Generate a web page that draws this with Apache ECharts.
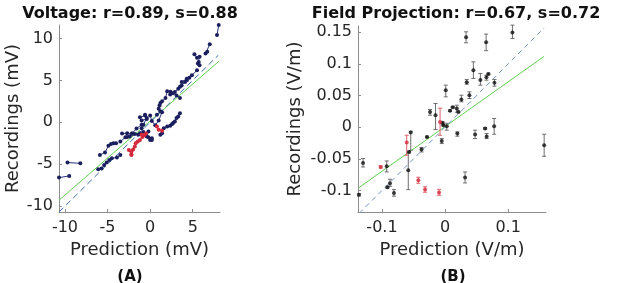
<!DOCTYPE html>
<html>
<head>
<meta charset="utf-8">
<script src="https://cdn.jsdelivr.net/npm/echarts@6.0.0/dist/echarts.min.js"></script>
<style>
  html, body { margin: 0; padding: 0; background: #fff; }
  #chart { width: 617px; height: 283px; }
</style>
</head>
<body>
<div id="chart"></div>
<script>
// ---- (A) Voltage: chains of recordings vs prediction (mV)
const voltNavyChains = [
  [[-10.7, -6.6], [-9.5, -6.4]],
  [[-9.7, -4.8], [-8.2, -4.9]],
  [[-6.1, -5.6], [-5.7, -5.5], [-5.4, -5.1], [-5.1, -4.8], [-4.8, -4.5], [-4.5, -4.3], [-3.9, -4.2], [-3.5, -3.9]],
  [[-5.9, -3.9], [-5.3, -3.6], [-4.9, -2.8], [-4.6, -2.6], [-4.3, -2.5], [-4.0, -2.5]],
  [[-3.5, -2.3], [-2.9, -1.8], [-2.4, -1.7], [-1.8, -1.4], [-1.2, -1.3]],
  [[-3.3, -1.35], [-2.7, -1.3], [-2.1, -1.35], [-1.4, -1.5], [-0.8, -1.15], [-0.2, -1.8], [0.2, -2.1]],
  [[-2.7, -1.75], [-2.15, -1.35], [-1.6, -0.75], [-1.0, -0.3]],
  [[-1.2, 0.6], [-0.6, 0.8], [-0.4, 0.4], [-1.0, 0.2]],
  [[-0.6, 0.9], [-0.4, 0.5], [-0.8, -0.3], [-1.0, -0.7]],
  [[-0.2, -1.1], [-0.4, -1.7], [0.0, -2.1], [0.2, -1.9]],
  [[0.0, 0.8], [0.2, 0.15], [0.6, -0.35], [1.0, 0.2], [1.4, 1.2]],
  [[1.2, -1.5], [1.4, -1.3], [1.6, -0.7], [2.0, -0.5], [2.35, -0.4], [2.55, -0.24], [2.7, -0.1], [2.9, 0.1], [3.1, 0.5], [3.3, 0.7], [3.5, 1.07]],
  [[0.8, 0.9], [1.2, 1.3], [1.0, 1.6], [1.1, 2.0], [1.2, 2.3], [1.4, 2.5], [1.8, 2.9], [2.0, 3.7], [2.4, 3.65], [2.35, 3.3], [2.7, 3.45], [2.9, 3.6], [3.3, 4.0], [3.5, 4.25], [3.7, 4.4], [4.1, 4.8], [4.3, 5.0], [4.6, 5.3]],
  [[3.1, 3.2], [3.5, 2.9]],
  [[3.7, 4.8], [4.3, 5.2], [4.9, 5.6], [5.5, 6.2]],
  [[5.2, 8.1], [5.5, 7.7], [5.8, 7.8], [5.6, 7.0], [5.8, 6.8], [5.7, 7.2]],
  [[6.5, 8.2], [6.7, 8.4], [7.0, 9.3]],
  [[7.85, 10.4], [8.05, 11.6]]
];
const voltRedChains = [
  [[-2.5, -3.3], [-2.2, -3.8]],
  [[-2.2, -3.9], [-2.2, -3.5], [-2.0, -3.25], [-1.8, -2.9], [-1.7, -2.5], [-1.45, -2.3], [-1.2, -2.1], [-0.9, -1.75], [-0.7, -1.55], [-0.5, -1.35]],
  [[-1.0, -1.5]],
  [[0.8, -0.5], [1.0, -0.9], [1.4, -1.0]]
];
const voltFit = [[-10.7, -9.3], [8.1, 7.3]];
const voltIdentity = [[-10.7, -10.7], [8.0, 8.0]];
const voltXTicks = [-10, -5, 0, 5];
const voltYTicks = [-10, -5, 0, 5, 10];

// ---- (B) Field projection: [prediction, recording, low, high] (V/m)
const fieldBlack = [
  [-0.130, -0.0565, -0.0628, -0.0495],
  [-0.1365, -0.1068, -0.1085, -0.1050],
  [-0.0925, -0.0617, -0.0707, -0.0533],
  [-0.0913, -0.0949, -0.0965, -0.0933],
  [-0.0873, -0.0886, -0.0934, -0.0823],
  [-0.081, -0.104, -0.109, -0.0986],
  [-0.0544, -0.0084, -0.0364, -0.0063],
  [-0.0571, -0.0391, -0.0405, -0.0377],
  [-0.0583, -0.068, -0.0986, -0.0396],
  [-0.0373, -0.0351, -0.0391, -0.0321],
  [-0.0286, -0.0153, -0.0165, -0.0141],
  [-0.0238, 0.0242, 0.019, 0.028],
  [-0.0151, 0.019, -0.0036, 0.0375],
  [-0.004, 0.0071, 0.0059, 0.0083],
  [-0.0027, 0.0032, 0.0020, 0.0044],
  [-0.0052, -0.0217, -0.0258, -0.0179],
  [0.0011, 0.0585, 0.048, 0.0665],
  [0.0079, 0.0261, 0.0249, 0.0273],
  [0.0122, 0.0316, 0.0304, 0.0328],
  [0.0186, 0.0296, 0.0237, 0.0348],
  [0.0211, 0.0242, 0.0230, 0.0254],
  [0.0027, 0.0016, -0.0047, 0.0063],
  [0.0259, 0.044, 0.0402, 0.0506],
  [0.0386, 0.0506, 0.0454, 0.0559],
  [0.0333, 0.1424, 0.1334, 0.1508],
  [0.0651, 0.1345, 0.121, 0.1472],
  [0.1068, 0.1498, 0.1403, 0.1614],
  [0.0449, 0.0902, 0.0771, 0.1033],
  [0.0344, 0.0712, 0.068, 0.0755],
  [0.056, 0.0748, 0.0665, 0.085],
  [0.0656, 0.0791, 0.0744, 0.0823],
  [0.0687, 0.0843, 0.0831, 0.0855],
  [0.0783, 0.0704, 0.0649, 0.0755],
  [0.0195, -0.01, -0.0142, -0.0074],
  [0.0476, -0.0116, -0.0179, -0.0047],
  [0.0635, -0.002, -0.0032, -0.0008],
  [0.0659, -0.0147, -0.0179, -0.01],
  [0.0778, 0.0016, -0.0111, 0.0138],
  [0.1571, -0.0285, -0.0459, -0.0111],
  [0.0317, -0.0796, -0.0881, -0.0707]
];
const fieldRed = [
  [-0.102, -0.0628, -0.0645, -0.0611],
  [-0.0608, -0.0242, -0.0443, -0.0127],
  [-0.0424, -0.0839, -0.0886, -0.0791],
  [-0.0317, -0.0986, -0.1028, -0.0941],
  [-0.0095, -0.1033, -0.1076, -0.0981],
  [-0.0079, 0.0084, -0.0127, 0.0301]
];
const fieldFit = [[-0.138, -0.0965], [0.157, 0.112]];
const fieldIdentity = [[-0.136, -0.136], [0.157, 0.157]];
const fieldXTicks = [-0.1, 0, 0.1];
const fieldYTicks = [-0.1, -0.05, 0, 0.05, 0.1, 0.15];

const FONT = 'DejaVu Sans';
const NAVY = '#1c1f5e';
const RED = '#d42a3c';
const GREEN = '#5fcf4f';

function valueAxis(gridIndex, min, max, ticks, name, nameGap, isY) {
  return {
    type: 'value', gridIndex, min, max,
    name, nameLocation: 'middle', nameGap,
    nameTextStyle: { fontFamily: FONT, fontSize: 18, color: '#262626' },
    axisLine: { show: true, onZero: false, lineStyle: { color: '#8c8c8c', width: 1 } },
    axisTick: { show: true, inside: true, length: 3, customValues: ticks, lineStyle: { color: '#8c8c8c' } },
    axisLabel: { customValues: ticks, fontFamily: FONT, fontSize: 16, color: '#262626', margin: isY ? 6 : 8 },
    splitLine: { show: false }
  };
}

// vertical error bar with small caps, placed through the axis scales
function errorBars(color) {
  return function (params, api) {
    const x = api.value(0);
    const pLo = api.coord([x, api.value(2)]);
    const pHi = api.coord([x, api.value(3)]);
    const w = 2;
    const st = { stroke: color, lineWidth: 1 };
    return {
      type: 'group',
      children: [
        { type: 'line', shape: { x1: pLo[0], y1: pLo[1], x2: pHi[0], y2: pHi[1] }, style: st },
        { type: 'line', shape: { x1: pLo[0] - w, y1: pLo[1], x2: pLo[0] + w, y2: pLo[1] }, style: st },
        { type: 'line', shape: { x1: pHi[0] - w, y1: pHi[1], x2: pHi[0] + w, y2: pHi[1] }, style: st }
      ]
    };
  };
}

const series = [];
series.push({ type: 'line', xAxisIndex: 0, yAxisIndex: 0, data: voltFit, symbol: 'none', silent: true,
  lineStyle: { color: GREEN, width: 1 }, z: 3 });
series.push({ type: 'line', xAxisIndex: 0, yAxisIndex: 0, data: voltIdentity, symbol: 'none', silent: true,
  lineStyle: { color: '#3b6aa6', width: 1, type: [6, 4] }, z: 3 });
voltNavyChains.forEach(c => series.push({
  type: 'line', xAxisIndex: 0, yAxisIndex: 0, data: c, symbol: 'circle', symbolSize: 4, clip: false,
  itemStyle: { color: NAVY }, lineStyle: { color: '#2a3480', width: 1 }, z: 4
}));
voltRedChains.forEach(c => series.push({
  type: 'line', xAxisIndex: 0, yAxisIndex: 0, data: c, symbol: 'circle', symbolSize: 4, clip: false,
  itemStyle: { color: RED }, lineStyle: { color: RED, width: 1 }, z: 5
}));

series.push({ type: 'line', xAxisIndex: 1, yAxisIndex: 1, data: fieldFit, symbol: 'none', silent: true,
  lineStyle: { color: GREEN, width: 1 }, z: 3 });
series.push({ type: 'line', xAxisIndex: 1, yAxisIndex: 1, data: fieldIdentity, symbol: 'none', silent: true,
  lineStyle: { color: '#7393c4', width: 1, type: [5, 4] }, z: 3 });
series.push({ type: 'custom', xAxisIndex: 1, yAxisIndex: 1, data: fieldBlack, renderItem: errorBars('#6e6e6e'),
  encode: { x: 0, y: [2, 3] }, clip: false, z: 4 });
series.push({ type: 'custom', xAxisIndex: 1, yAxisIndex: 1, data: fieldRed, renderItem: errorBars('#e0606c'),
  encode: { x: 0, y: [2, 3] }, clip: false, z: 4 });
series.push({ type: 'scatter', xAxisIndex: 1, yAxisIndex: 1, data: fieldBlack.map(d => [d[0], d[1]]),
  symbolSize: 4, itemStyle: { color: '#111' }, clip: false, z: 5 });
series.push({ type: 'scatter', xAxisIndex: 1, yAxisIndex: 1, data: fieldRed.map(d => [d[0], d[1]]),
  symbolSize: 4, itemStyle: { color: RED }, clip: false, z: 5 });

const option = {
  animation: false,
  backgroundColor: '#ffffff',
  title: [
    { text: 'Voltage: r=0.89, s=0.88', left: 125, top: 1, textAlign: 'center',
      textStyle: { fontFamily: FONT, fontSize: 16, fontWeight: 'bold', color: '#111' } },
    { text: 'Field Projection: r=0.67, s=0.72', left: 451, top: 1, textAlign: 'center',
      textStyle: { fontFamily: FONT, fontSize: 16, fontWeight: 'bold', color: '#111' } },
    { text: '(A)', left: 125, top: 265, textAlign: 'center',
      textStyle: { fontFamily: FONT, fontSize: 15, fontWeight: 'bold', color: '#111' } },
    { text: '(B)', left: 448, top: 265, textAlign: 'center',
      textStyle: { fontFamily: FONT, fontSize: 15, fontWeight: 'bold', color: '#111' } }
  ],
  grid: [
    { left: 59, top: 25, width: 161, height: 187 },
    { left: 358, top: 26, width: 188, height: 186 }
  ],
  xAxis: [
    valueAxis(0, -10.7, 8.2, voltXTicks, 'Prediction (mV)', 28, false),
    valueAxis(1, -0.138, 0.16, fieldXTicks, 'Prediction (V/m)', 28, false)
  ],
  yAxis: [
    valueAxis(0, -10.7, 11.6, voltYTicks, 'Recordings (mV)', 37, true),
    valueAxis(1, -0.134, 0.16, fieldYTicks, 'Recordings (V/m)', 54, true)
  ],
  series
};

const chart = echarts.init(document.getElementById('chart'));
chart.setOption(option);
</script>
</body>
</html>
